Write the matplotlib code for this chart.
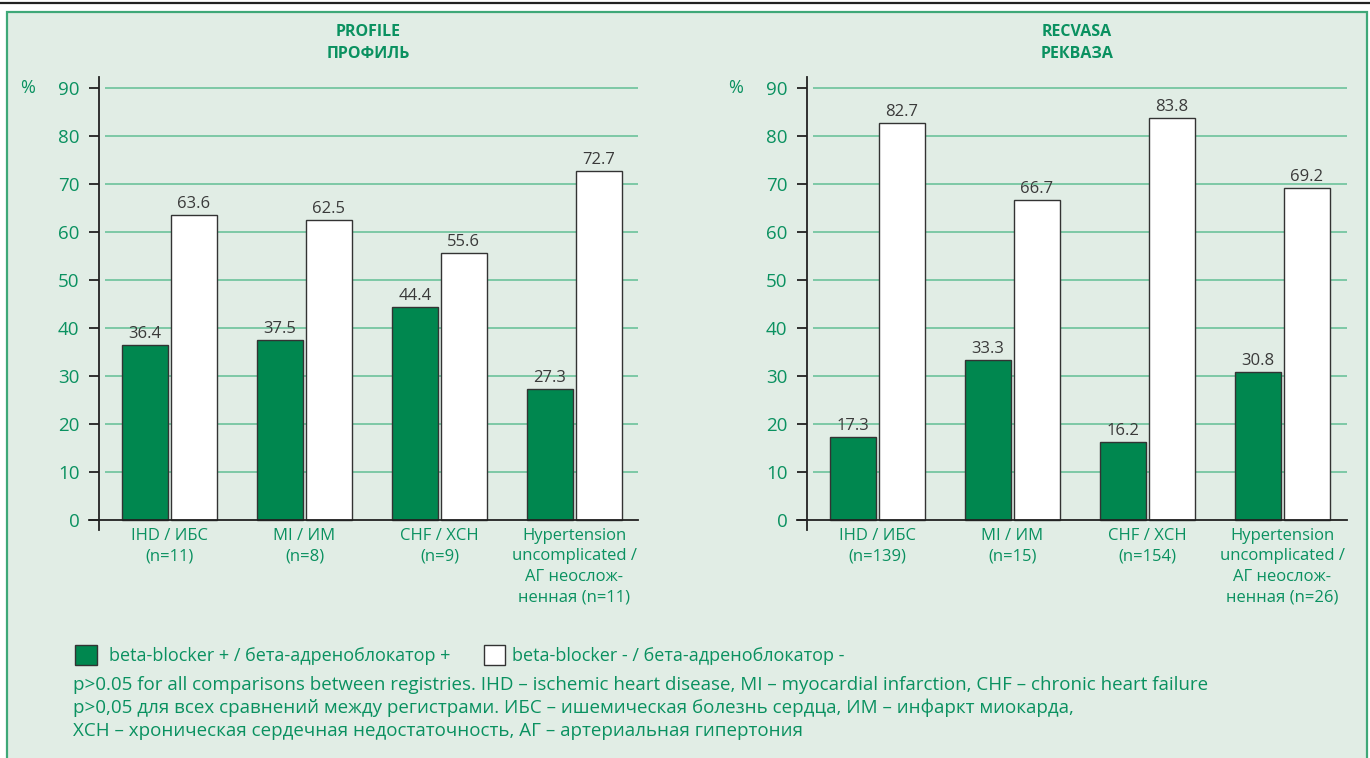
import matplotlib.pyplot as plt
from matplotlib.patches import Rectangle
from matplotlib.lines import Line2D

# ------------------------- Data ------------------------- #
groups = ["IHD / ИБС", "MI / ИМ", "CHF / ХСН", "Hypertension\nuncomplicated /\nАГ неослож-\nненная"]
n_profile = [11, 8, 9, 11]
n_recvasa = [139, 15, 154, 26]
profile_bb_plus = [36.4, 37.5, 44.4, 27.3]
profile_bb_minus = [63.6, 62.5, 55.6, 72.7]
recvasa_bb_plus = [17.3, 33.3, 16.2, 30.8]
recvasa_bb_minus = [82.7, 66.7, 83.8, 69.2]
yticks = [0, 10, 20, 30, 40, 50, 60, 70, 80, 90]

legend_labels = ["beta-blocker + / бета-адреноблокатор +", "beta-blocker - / бета-адреноблокатор -"]
footnotes = [
    "p>0.05 for all comparisons between registries. IHD – ischemic heart disease, MI – myocardial infarction, CHF – chronic heart failure",
    "p>0,05 для всех сравнений между регистрами. ИБС – ишемическая болезнь сердца, ИМ – инфаркт миокарда,",
    "ХСН – хроническая сердечная недостаточность, АГ – артериальная гипертония",
]

# ------------------------- Style ------------------------- #
W, H = 1370, 758
BG = "#e1ede5"
BORDER = "#3ea878"
GREEN_BAR = "#00874f"
GREEN_TXT = "#0a9160"
GRID = "#6cc29b"
VAL_TXT = "#3a3a3a"

plt.rcParams["font.family"] = ["Open Sans", "DejaVu Sans"]

fig = plt.figure(figsize=(W / 100, H / 100), dpi=100)
fig.patch.set_facecolor("white")


def fx(px):
    return px / W


def fy(py):
    return 1 - py / H


# panel background + frame
fig.add_artist(Rectangle((fx(7), fy(770)), fx(1367 - 7), (770 - 12) / H,
                         facecolor=BG, edgecolor=BORDER, linewidth=1.6,
                         transform=fig.transFigure, zorder=0))
fig.add_artist(Line2D([0, 1], [fy(3), fy(3)], color="#222222", linewidth=1.6,
                      transform=fig.transFigure))


def draw_panel(left_px, right_px, title, plus, minus, ns):
    ax = fig.add_axes([fx(left_px), fy(530), fx(right_px - left_px), (530 - 77) / H])
    ax.set_facecolor("none")
    x0 = -0.522
    x1 = x0 + (right_px - left_px) / 135
    ax.set_xlim(x0, x1)
    ax.set_ylim(-2.1, 92.3)

    # grid lines (start a little right of the spine)
    ax.hlines(yticks[1:], x0 + 6 / 135, x1, color=GRID, linewidth=1.2, zorder=1)
    # x axis line at 0
    ax.plot([x0 - 10 / 135, x1], [0, 0], color="#222222", linewidth=1.3,
            clip_on=False, zorder=4)

    xs = list(range(len(groups)))
    bw = 0.34
    off = 0.181
    ax.bar([x - off for x in xs], plus, width=bw, color=GREEN_BAR,
           edgecolor="#333333", linewidth=1.0, zorder=3)
    ax.bar([x + off for x in xs], minus, width=bw, color="white",
           edgecolor="#333333", linewidth=1.0, zorder=3)
    for x, v in zip(xs, plus):
        ax.annotate(f"{v:.1f}", (x - off, v), xytext=(0, 3), textcoords="offset pixels",
                    ha="center", va="bottom", fontsize=12, color=VAL_TXT)
    for x, v in zip(xs, minus):
        ax.annotate(f"{v:.1f}", (x + off, v), xytext=(0, 3), textcoords="offset pixels",
                    ha="center", va="bottom", fontsize=12, color=VAL_TXT)

    # category labels
    for x, g, n in zip(xs, groups, ns):
        if "\n" in g:
            lab = f"{g} (n={n})"
        else:
            lab = f"{g}\n(n={n})"
        ax.annotate(lab, (x, 0), xytext=(0, -8), textcoords="offset pixels",
                    ha="center", va="top", multialignment="center",
                    fontsize=12, color=GREEN_TXT, linespacing=1.38)

    for s in ["top", "right", "bottom"]:
        ax.spines[s].set_visible(False)
    ax.spines["left"].set_color("#222222")
    ax.spines["left"].set_linewidth(1.3)
    ax.set_xticks([])
    ax.set_yticks(yticks)
    ax.tick_params(axis="y", direction="out", length=7, width=1.3, color="#222222",
                   labelcolor=GREEN_TXT, labelsize=13.5, pad=7)

    cx = (left_px + right_px) / 2
    fig.text(fx(cx), fy(43), title, ha="center", va="center", fontsize=11.5,
             fontweight="bold", color=GREEN_TXT, linespacing=1.5)
    fig.text(fx(left_px - 71), fy(88), "%", ha="center", va="center",
             fontsize=13, color=GREEN_TXT)
    return ax


draw_panel(99, 638, "PROFILE\nПРОФИЛЬ", profile_bb_plus, profile_bb_minus, n_profile)
draw_panel(807, 1347, "RECVASA\nРЕКВАЗА", recvasa_bb_plus, recvasa_bb_minus, n_recvasa)

# ------------------------- Legend + notes ------------------------- #
fig.add_artist(Rectangle((fx(75), fy(665)), fx(22), 20 / H, facecolor=GREEN_BAR,
                         edgecolor="#333333", linewidth=1.0, transform=fig.transFigure))
fig.add_artist(Rectangle((fx(484), fy(665)), fx(21), 20 / H, facecolor="white",
                         edgecolor="#333333", linewidth=1.0, transform=fig.transFigure))
fig.text(fx(109), fy(656), legend_labels[0], ha="left", va="center",
         fontsize=13, color=GREEN_TXT)
fig.text(fx(512), fy(656), legend_labels[1], ha="left", va="center",
         fontsize=13, color=GREEN_TXT)
for i, line in enumerate(footnotes):
    fig.text(fx(73), fy(685 + 23 * i), line, ha="left", va="center",
             fontsize=13.5, color=GREEN_TXT)

fig.savefig("out.png", dpi=100, facecolor=fig.get_facecolor())
